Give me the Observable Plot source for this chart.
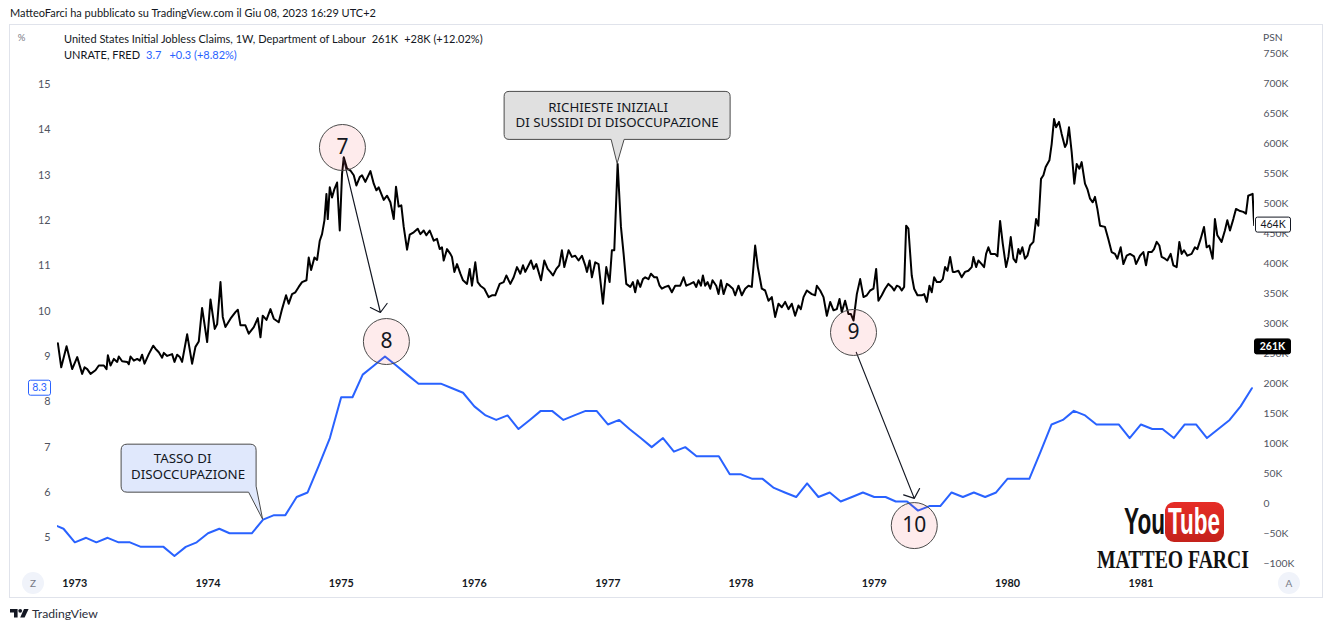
<!DOCTYPE html>
<html lang="it">
<head>
<meta charset="utf-8">
<title>Initial Jobless Claims vs UNRATE</title>
<script src="https://cdn.jsdelivr.net/npm/d3@7"></script>
<script src="https://cdn.jsdelivr.net/npm/@observablehq/plot@0.6"></script>
<style>
  html,body{margin:0;padding:0;background:#fff;}
  body{width:1332px;height:629px;position:relative;overflow:hidden;font-family:Lato,"Noto Sans",sans-serif;color:#131722;}
  .abs{position:absolute;white-space:pre;line-height:12px;}
  #frame{position:absolute;left:9px;top:24px;width:1312px;height:572px;border:1px solid #e0e3eb;}
  #layerB,#layerA{position:absolute;left:10px;top:25px;width:1312px;height:572px;}
  #layerA svg,#layerB svg{position:absolute;left:0;top:0;}
  #deco{position:absolute;left:0;top:0;}
</style>
</head>
<body>
<div id="frame"></div>
<div class="abs" style="left:10px;top:7px;font-size:11px;">MatteoFarci ha pubblicato su TradingView.com il Giu 08, 2023 16:29 UTC+2</div>
<div id="layerB"></div>
<div id="layerA"></div>
<div class="abs" style="left:64px;top:33px;font-size:11px;">United States Initial Jobless Claims, 1W, Department of Labour<span style="margin-left:6px">261K</span><span style="margin-left:6px">+28K (+12.02%)</span></div>
<div class="abs" style="left:64px;top:49px;font-size:11px;">UNRATE, FRED<span style="margin-left:6px;color:#2962ff">3.7</span><span style="margin-left:8px;color:#2962ff">+0.3 (+8.82%)</span></div>
<svg id="deco" width="1332" height="629"></svg>
<script>
// ---------------- data ----------------
const yearTicks = [1973, 1974, 1975, 1976, 1977, 1978, 1979, 1980, 1981];
const rateTicks = [5, 6, 7, 8, 9, 10, 11, 12, 13, 14, 15];
const claimsTicks = [-100, -50, 0, 50, 100, 150, 200, 250, 300, 350, 400, 450, 500, 550, 600, 650, 700, 750];

// UNRATE (FRED), monthly from Nov 1972
const unrateStart = [1972, 10];
const unrate = [
  5.3, 5.2,
  4.9, 5.0, 4.9, 5.0, 4.9, 4.9, 4.8, 4.8, 4.8, 4.6, 4.8, 4.9,
  5.1, 5.2, 5.1, 5.1, 5.1, 5.4, 5.5, 5.5, 5.9, 6.0, 6.6, 7.2,
  8.1, 8.1, 8.6, 8.8, 9.0, 8.8, 8.6, 8.4, 8.4, 8.4, 8.3, 8.2,
  7.9, 7.7, 7.6, 7.7, 7.4, 7.6, 7.8, 7.8, 7.6, 7.7, 7.8, 7.8,
  7.5, 7.6, 7.4, 7.2, 7.0, 7.2, 6.9, 7.0, 6.8, 6.8, 6.8, 6.4,
  6.4, 6.3, 6.3, 6.1, 6.0, 5.9, 6.2, 5.9, 6.0, 5.8, 5.9, 6.0,
  5.9, 5.9, 5.8, 5.8, 5.6, 5.7, 5.7, 6.0, 5.9, 6.0, 5.9, 6.0,
  6.3, 6.3, 6.3, 6.9, 7.5, 7.6, 7.8, 7.7, 7.5, 7.5, 7.5, 7.2,
  7.5, 7.4, 7.4, 7.2, 7.5, 7.5, 7.2, 7.4, 7.6, 7.9, 8.3
];

// Initial jobless claims (thousands): [decimal year, value]
const claimsPoints = [
  [1972.873,267],[1972.898,227],[1972.938,262],[1972.980,224],[1973.018,244],[1973.055,216],[1973.073,227],[1973.093,224],
  [1973.118,216],[1973.155,222],[1973.180,230],[1973.218,230],[1973.238,224],[1973.248,247],[1973.268,230],[1973.293,241],
  [1973.318,236],[1973.330,245],[1973.355,237],[1973.393,236],[1973.405,232],[1973.418,245],[1973.443,238],[1973.468,241],
  [1973.488,238],[1973.505,248],[1973.523,233],[1973.555,249],[1973.588,263],[1973.605,258],[1973.630,252],[1973.655,243],
  [1973.668,251],[1973.693,246],[1973.730,249],[1973.748,236],[1973.768,248],[1973.788,244],[1973.805,236],[1973.843,282],
  [1973.880,233],[1973.905,261],[1973.930,270],[1973.955,326],[1973.993,269],[1974.018,340],[1974.050,291],[1974.068,299],
  [1974.093,369],[1974.110,311],[1974.130,294],[1974.168,308],[1974.205,319],[1974.223,323],[1974.243,297],[1974.280,297],
  [1974.305,283],[1974.343,294],[1974.373,309],[1974.393,277],[1974.410,313],[1974.438,306],[1974.468,324],[1974.493,308],
  [1974.530,302],[1974.555,324],[1974.585,347],[1974.605,333],[1974.630,349],[1974.655,352],[1974.680,361],[1974.705,369],
  [1974.738,372],[1974.755,410],[1974.773,389],[1974.798,410],[1974.818,406],[1974.838,438],[1974.855,449],[1974.873,472],
  [1974.888,516],[1974.898,474],[1974.913,527],[1974.930,510],[1974.948,524],[1974.968,535],[1974.988,455],[1975.005,549],
  [1975.018,577],[1975.043,558],[1975.068,555],[1975.093,547],[1975.113,530],[1975.138,544],[1975.155,547],[1975.180,536],
  [1975.218,554],[1975.243,533],[1975.263,522],[1975.280,527],[1975.318,506],[1975.343,513],[1975.368,502],[1975.393,474],
  [1975.410,528],[1975.430,495],[1975.450,497],[1975.468,461],[1975.493,423],[1975.513,448],[1975.543,452],[1975.573,458],
  [1975.593,449],[1975.618,455],[1975.638,447],[1975.663,455],[1975.693,438],[1975.718,441],[1975.738,424],
  [1975.755,427],[1975.768,405],[1975.793,424],[1975.818,416],[1975.830,411],[1975.848,386],[1975.868,399],[1975.893,383],
  [1975.913,372],[1975.943,366],[1975.963,391],[1975.980,363],[1976.005,402],[1976.023,369],[1976.043,363],[1976.073,358],
  [1976.105,344],[1976.130,347],[1976.155,347],[1976.188,366],[1976.218,369],[1976.238,380],[1976.268,366],[1976.293,377],
  [1976.318,394],[1976.343,383],[1976.363,397],[1976.380,386],[1976.405,397],[1976.423,405],[1976.443,391],[1976.463,399],
  [1976.480,386],[1976.498,372],[1976.523,405],[1976.548,391],[1976.568,386],[1976.588,380],[1976.613,391],[1976.635,397],
  [1976.655,422],[1976.673,394],[1976.705,422],[1976.730,411],[1976.755,413],[1976.780,405],[1976.805,413],[1976.830,397],
  [1976.843,386],[1976.863,405],[1976.880,377],[1976.905,402],[1976.930,399],[1976.963,333],[1976.988,394],[1977.013,369],
  [1977.030,422],[1977.048,422],[1977.073,566],[1977.098,461],[1977.118,416],[1977.138,366],[1977.168,361],[1977.188,369],
  [1977.205,352],[1977.223,372],[1977.243,361],[1977.263,374],[1977.280,377],[1977.305,374],[1977.323,383],[1977.348,377],
  [1977.368,377],[1977.388,363],[1977.405,358],[1977.430,361],[1977.455,363],[1977.480,352],[1977.505,363],[1977.543,363],
  [1977.568,377],[1977.588,363],[1977.618,366],[1977.643,369],[1977.663,361],[1977.680,372],[1977.698,363],[1977.713,380],
  [1977.730,363],[1977.748,369],[1977.768,358],[1977.785,372],[1977.813,363],[1977.830,349],[1977.848,372],[1977.868,349],
  [1977.893,366],[1977.913,363],[1977.938,358],[1977.955,347],[1977.980,363],[1978.005,347],[1978.030,358],[1978.055,363],
  [1978.080,361],[1978.105,430],[1978.125,394],[1978.155,358],[1978.180,355],[1978.205,338],[1978.230,344],[1978.255,311],
  [1978.280,333],[1978.305,327],[1978.330,336],[1978.355,324],[1978.380,333],[1978.405,313],[1978.430,330],
  [1978.448,324],[1978.468,344],[1978.493,355],[1978.530,349],[1978.555,347],[1978.568,363],[1978.593,355],[1978.618,344],
  [1978.643,313],[1978.668,336],[1978.693,322],[1978.718,324],[1978.738,341],[1978.755,319],[1978.780,338],[1978.805,316],
  [1978.823,316],[1978.843,305],[1978.868,349],[1978.893,374],[1978.918,344],[1978.943,347],[1978.968,355],[1978.993,358],
  [1979.013,391],[1979.030,338],[1979.055,347],[1979.080,358],[1979.105,366],[1979.130,361],[1979.148,355],[1979.168,363],
  [1979.188,361],[1979.205,355],[1979.223,361],[1979.238,463],[1979.255,458],[1979.280,380],[1979.298,358],[1979.323,347],
  [1979.355,347],[1979.373,349],[1979.393,336],[1979.413,363],[1979.430,352],[1979.448,377],[1979.468,369],[1979.493,369],
  [1979.513,374],[1979.530,394],[1979.548,388],[1979.568,411],[1979.588,386],[1979.605,386],[1979.630,388],[1979.655,377],
  [1979.680,386],[1979.705,388],[1979.730,394],[1979.743,411],[1979.763,394],[1979.780,405],[1979.805,399],[1979.823,394],
  [1979.838,416],[1979.855,427],[1979.873,416],[1979.905,416],[1979.923,412],[1979.943,471],[1979.963,433],[1979.988,394],
  [1980.005,411],[1980.023,444],[1980.043,408],[1980.063,402],[1980.080,424],[1980.093,416],[1980.110,427],[1980.130,408],
  [1980.148,413],[1980.168,430],[1980.193,436],[1980.213,474],[1980.230,463],[1980.250,541],[1980.268,547],[1980.285,561],
  [1980.313,572],[1980.330,599],[1980.348,641],[1980.363,627],[1980.385,636],[1980.405,616],[1980.430,594],[1980.443,600],
  [1980.460,627],[1980.480,586],[1980.500,533],[1980.518,566],[1980.538,558],[1980.555,569],[1980.580,533],[1980.598,524],
  [1980.618,508],[1980.638,502],[1980.655,511],[1980.673,491],[1980.693,463],[1980.730,461],[1980.755,441],[1980.780,419],
  [1980.805,416],[1980.823,408],[1980.848,427],[1980.868,399],[1980.893,413],[1980.918,416],[1980.948,412],[1980.963,399],
  [1980.993,413],[1981.018,419],[1981.038,397],[1981.055,419],[1981.080,419],[1981.098,424],[1981.118,436],[1981.138,430],
  [1981.155,411],[1981.180,408],[1981.198,405],[1981.223,416],[1981.243,397],[1981.268,394],[1981.288,436],[1981.305,416],
  [1981.323,422],[1981.348,413],[1981.380,416],[1981.405,427],[1981.423,424],[1981.448,441],[1981.473,461],[1981.493,427],
  [1981.513,430],[1981.538,408],[1981.555,474],[1981.573,447],[1981.605,436],[1981.630,455],[1981.648,472],[1981.668,455],
  [1981.693,474],[1981.713,491],[1981.738,488],[1981.768,486],[1981.788,483],[1981.805,513],[1981.838,516],[1981.846,477],
  [1981.850,464]
];
const currentClaims = 261;   // latest value shown on the price scale (K)

// numbered markers (decimal year, rate %) and arrows
const markerLabels = ["7", "8", "9", "10"];
const markerYear = [1975.008, 1975.338, 1978.843, 1979.299];
const markerRate = [13.61, 9.33, 9.53, 5.27];
const arrowFromYear = [1975.015, 1978.864];
const arrowFromRate = [13.37, 9.09];
const arrowToYear = [1975.293, 1979.299];
const arrowToRate = [9.97, 5.87];

// callouts
const calloutLines = [["RICHIESTE INIZIALI", "DI SUSSIDI DI DISOCCUPAZIONE"], ["TASSO DI", "DISOCCUPAZIONE"]];
const calloutYearOfPeak = 1977;          // grey callout points to the 1977 claims spike
const calloutRateMonth = [1974, 5];      // blue callout points to Jun 1974 unemployment rate

// ---------------- helpers ----------------
const T0 = Date.UTC(1973, 0, 1);
const MS_YEAR = 365.25 * 864e5;
const dec = t => new Date(T0 + (t - 1973) * MS_YEAR);
const xDomain = [dec(1972.870), dec(1981.852)];

const unrateRows = unrate.map((v, i) => ({date: new Date(Date.UTC(unrateStart[0], unrateStart[1] + i, 1)), v}));
const claimsRows = claimsPoints.map(([t, v]) => ({date: dec(t), v}));
const markers = markerLabels.map((l, i) => ({label: l, x: dec(markerYear[i]), y: markerRate[i]}));
const arrows = arrowFromYear.map((t, i) => ({x1: dec(t), y1: arrowFromRate[i], x2: dec(arrowToYear[i]), y2: arrowToRate[i]}));

const W = 1312, H = 572;
const M = {marginLeft: 47, marginRight: 68, marginTop: 0, marginBottom: 27};
const FONT = "Lato, 'Noto Sans', sans-serif";

// ---------------- claims layer (right scale) ----------------
const plotB = Plot.plot({
  width: W, height: H, ...M,
  style: {background: "transparent", fontFamily: FONT, overflow: "visible", color: "#131722"},
  x: {type: "utc", domain: xDomain, axis: null},
  y: {domain: [-111.667, 796.667]},
  marks: [
    Plot.axisY({anchor: "right", ticks: claimsTicks, tickSize: 0, tickPadding: 9, fontSize: 10.3, color: "#50535e", label: null,
      tickFormat: d => d === 0 ? "0" : (d < 0 ? "\u2212" : "") + Math.abs(d) + "K"}),
    Plot.line(claimsRows, {x: "date", y: "v", stroke: "#000", strokeWidth: 2, clip: true})
  ]
});
document.getElementById("layerB").appendChild(plotB);

// ---------------- rate layer (left scale) ----------------
const plotA = Plot.plot({
  width: W, height: H, ...M,
  style: {background: "transparent", fontFamily: FONT, overflow: "visible", color: "#131722"},
  x: {type: "utc", domain: xDomain},
  y: {domain: [4.2787, 16.3016]},
  marks: [
    Plot.axisX({ticks: yearTicks.map(y => new Date(Date.UTC(y, 0, 1))), tickFormat: d3.utcFormat("%Y"),
      tickSize: 0, tickPadding: 9, fontSize: 10.8, fontWeight: "bold", color: "#131722", label: null}),
    Plot.axisY({ticks: rateTicks, tickSize: 0, tickPadding: 7, fontSize: 10.8, color: "#50535e", label: null}),
    Plot.line(unrateRows, {x: "date", y: "v", stroke: "#2962ff", strokeWidth: 2, clip: true}),
    Plot.arrow(arrows, {x1: "x1", y1: "y1", x2: "x2", y2: "y2", stroke: "#131722", strokeWidth: 1.2, headLength: 14, headAngle: 100}),
    Plot.dot(markers, {x: "x", y: "y", r: 23, fill: "#f23645", fillOpacity: 0.1, stroke: "#4a4a4a", strokeWidth: 1}),
    Plot.text(markers, {x: "x", y: "y", text: "label", fontSize: 21, fill: "#131722", fontFamily: "'Noto Sans', sans-serif"})
  ]
});
document.getElementById("layerA").appendChild(plotA);

// ---------------- annotations drawn through the plot scales ----------------
const xA = plotA.scale("x"), yA = plotA.scale("y"), xB = plotB.scale("x"), yB = plotB.scale("y");
const g = d3.select(plotA).append("g");

function calloutPath(b, tail) {
  const r = b.rr;
  if (tail.side === "bottom") {
    return `M${b.l + r},${b.t}H${b.r - r}Q${b.r},${b.t} ${b.r},${b.t + r}V${b.b - r}Q${b.r},${b.b} ${b.r - r},${b.b}` +
      `H${tail.a}L0,0L${tail.c},${b.b}H${b.l + r}Q${b.l},${b.b} ${b.l},${b.b - r}V${b.t + r}Q${b.l},${b.t} ${b.l + r},${b.t}Z`;
  }
  return `M${b.l + r},${b.t}H${b.r - r}Q${b.r},${b.t} ${b.r},${b.t + r}V${tail.a}L0,0L${tail.c},${b.b}` +
    `H${b.l + r}Q${b.l},${b.b} ${b.l},${b.b - r}V${b.t + r}Q${b.l},${b.t} ${b.l + r},${b.t}Z`;
}
function callout(tx, ty, box, tail, fill, lines, offsets) {
  const c = g.append("g").attr("transform", `translate(${tx},${ty})`);
  c.append("path").attr("d", calloutPath(box, tail)).attr("fill", fill).attr("stroke", "#4a4a4a").attr("stroke-width", 1);
  lines.forEach((s, i) => c.append("text").attr("x", offsets[i][0]).attr("y", offsets[i][1]).attr("dy", "0.35em")
    .attr("text-anchor", "middle").attr("font-family", "'Noto Sans', sans-serif").attr("font-size", 13.3)
    .attr("fill", "#131722").text(s));
}
// grey callout -> highest claims value of 1977
const peak = d3.greatest(claimsRows.filter(d => d.date.getUTCFullYear() === calloutYearOfPeak), d => d.v);
callout(xB.apply(peak.date), yB.apply(peak.v),
  {l: -113, r: 113, t: -72, b: -24, rr: 5}, {side: "bottom", a: 7, c: -6}, "#e0e0e0",
  calloutLines[0], [[-9, -56], [0, -41]]);
// blue callout -> unemployment rate, Jun 1974
const rateRow = unrateRows.find(d => d.date.getUTCFullYear() === calloutRateMonth[0] && d.date.getUTCMonth() === calloutRateMonth[1]);
callout(xA.apply(rateRow.date), yA.apply(rateRow.v),
  {l: -141.5, r: -6.5, t: -75, b: -27, rr: 6}, {side: "right", a: -33, c: -14}, "#e0e8fc",
  calloutLines[1], [[-80, -60.5], [-74.5, -45]]);

// price-scale value labels
const lastRate = unrate[unrate.length - 1];
const lastClaims = claimsPoints[claimsPoints.length - 1][1];
function scaleLabel(x, w, y, fill, stroke, color, txt, bold) {
  g.append("rect").attr("x", x).attr("y", y - 7.5).attr("width", w).attr("height", 15).attr("rx", 2)
    .attr("fill", fill).attr("stroke", stroke).attr("stroke-width", 1);
  g.append("text").attr("x", x + w / 2).attr("y", y).attr("dy", "0.35em").attr("text-anchor", "middle")
    .attr("font-family", FONT).attr("font-size", 10.5).attr("font-weight", bold ? "bold" : "normal").attr("fill", color).text(txt);
}
scaleLabel(18.5, 22, yA.apply(lastRate), "#fff", "#2962ff", "#2962ff", lastRate.toFixed(1), false);
scaleLabel(1245.5, 35, yB.apply(lastClaims), "#fff", "#131722", "#131722", lastClaims + "K", false);
scaleLabel(1244.5, 36, yB.apply(currentClaims), "#000", "#000", "#fff", currentClaims + "K", true);

// ---------------- decorations (watermark, buttons, logo) ----------------
const deco = d3.select("#deco");
deco.append("text").attr("x", 21.5).attr("y", 38).attr("dy", "0.35em").attr("text-anchor", "middle")
  .attr("font-family", FONT).attr("font-size", 9.5).attr("fill", "#787b86").text("%");
deco.append("text").attr("x", 1263).attr("y", 37).attr("dy", "0.35em")
  .attr("font-family", FONT).attr("font-size", 10.3).attr("fill", "#50535e").text("PSN");
[["Z", 33], ["A", 1289]].forEach(([t, x]) => {
  deco.append("circle").attr("cx", x).attr("cy", 583).attr("r", 11).attr("fill", "#f0f3fa");
  deco.append("text").attr("x", x).attr("y", 583).attr("dy", "0.35em").attr("text-anchor", "middle")
    .attr("font-family", FONT).attr("font-size", 10).attr("fill", "#787b86").text(t);
});
// TradingView logo
deco.append("path").attr("d", "M10,609H17.6V617.4H14V612.4H10Z").attr("fill", "#131722");
deco.append("circle").attr("cx", 20.2).attr("cy", 610.8).attr("r", 1.9).attr("fill", "#131722");
deco.append("path").attr("d", "M24,609H28.6L24.6,617.4H20.2Z").attr("fill", "#131722");
deco.append("text").attr("x", 32).attr("y", 613.5).attr("dy", "0.35em").attr("font-family", FONT)
  .attr("font-size", 12.2).attr("fill", "#2a2e39").text("TradingView");
// YouTube watermark
const defs = deco.append("defs");
const lg = defs.append("linearGradient").attr("id", "ytred").attr("x1", 0).attr("y1", 0).attr("x2", 0).attr("y2", 1);
lg.append("stop").attr("offset", "0%").attr("stop-color", "#e62d27");
lg.append("stop").attr("offset", "100%").attr("stop-color", "#c4221b");
deco.append("text").attr("x", 1124).attr("y", 534).attr("font-family", "'Liberation Sans', Arial, sans-serif")
  .attr("font-weight", "bold").attr("font-size", 37).attr("textLength", 41).attr("lengthAdjust", "spacingAndGlyphs")
  .attr("fill", "#111").text("You");
deco.append("rect").attr("x", 1165).attr("y", 502).attr("width", 59).attr("height", 40).attr("rx", 9).attr("fill", "url(#ytred)");
deco.append("text").attr("x", 1168).attr("y", 534).attr("font-family", "'Liberation Sans', Arial, sans-serif")
  .attr("font-weight", "bold").attr("font-size", 37).attr("textLength", 52).attr("lengthAdjust", "spacingAndGlyphs")
  .attr("fill", "#fff").text("Tube");
deco.append("text").attr("x", 1097).attr("y", 568).attr("font-family", "'Liberation Serif', 'DejaVu Serif', serif")
  .attr("font-weight", "bold").attr("font-size", 26).attr("textLength", 152).attr("lengthAdjust", "spacingAndGlyphs")
  .attr("fill", "#111").text("MATTEO FARCI");
</script>
</body>
</html>
